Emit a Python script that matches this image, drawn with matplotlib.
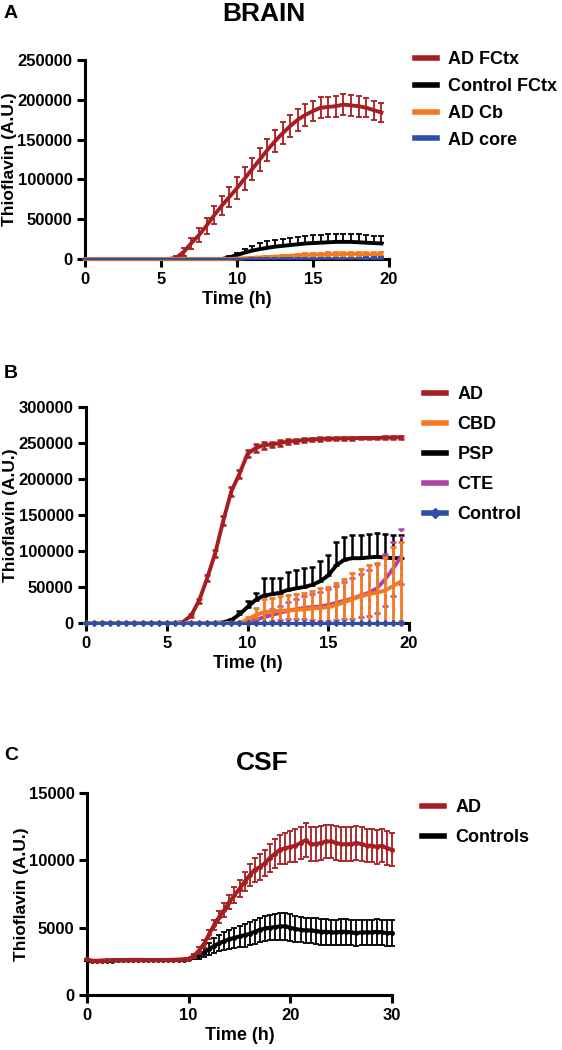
import numpy as np
import matplotlib.pyplot as plt
from matplotlib.lines import Line2D

plt.rcParams['font.family'] = ['Liberation Sans', 'DejaVu Sans']
plt.rcParams['font.weight'] = 'bold'

RED = '#a61e22'
ORANGE = '#f47920'
BLUE = '#2f4ea5'
MAGENTA = '#b044a6'
BLACK = '#000000'

# ---------------- panel A: brain ----------------
time_a = np.arange(0, 20, 0.5)
ad_fctx = [0] * 12 + [1500, 9000, 20000, 30000, 42000, 55000, 67000, 78000, 89000, 101000,
                      113000, 125000, 137000, 148000, 158000, 167000, 175000, 181000, 186000,
                      190000, 191000, 192000, 194000, 193000, 192000, 190000, 187000, 184000]
ad_fctx_err = [0] * 12 + [2000, 5000, 7000, 9000, 10000, 11000, 12000, 13000, 14000, 14000,
                          14000, 14000, 14000, 14000, 14000, 14000, 14000, 14000, 13000, 13000,
                          13000, 13000, 13000, 13000, 13000, 12000, 12000, 12000]
ctrl_fctx = [0] * 19 + [2000, 5000, 8000, 10500, 12500, 14000, 15500, 16500, 17500, 18500,
                        19500, 20000, 20500, 21000, 21500, 21500, 21500, 21000, 20500, 20000, 19500]
ctrl_fctx_err = [0] * 19 + [1500, 3000, 5000, 6000, 7000, 8000, 8500, 9000, 9500, 9500, 10000,
                            10000, 10000, 10000, 10000, 10000, 10000, 10000, 9500, 9500, 9500]
ad_cb = [0] * 20 + [500, 1000, 1500, 2000, 2500, 3000, 3500, 4000, 4500, 5000, 5500, 5500,
                    6000, 6000, 6500, 6500, 6500, 6000, 6000, 6000]
ad_cb_err = [0] * 20 + [200, 400, 600, 800, 1000, 1200, 1400, 1600, 1800, 2000, 2200, 2200,
                        2400, 2400, 2500, 2500, 2500, 2400, 2400, 2400]
ad_core = [0] * 20 + [200, 200, 300, 300, 300, 400, 400, 400, 500, 500, 500, 600, 600, 600,
                      700, 700, 700, 800, 800, 800]
ad_core_err = [0] * 20 + [300, 300, 400, 400, 500, 500, 600, 600, 700, 700, 800, 800, 900,
                          900, 1000, 1000, 1000, 1100, 1100, 1100]

# ---------------- panel B: tauopathies ----------------
time_b = np.arange(0, 20, 0.5)
ad_b = [0] * 12 + [1500, 10000, 31000, 62000, 97000, 142000, 183000, 207000, 235000, 243000,
                   247000, 248000, 250000, 252000, 253000, 254000, 255000, 255500, 256000,
                   256000, 256500, 256500, 257000, 257000, 257000, 257500, 257500, 258000]
ad_b_err = [0] * 12 + [500, 2000, 3000, 4000, 5000, 6000, 6000, 5000, 5000, 5000, 5000, 4000,
                       4000, 3000, 3000, 3000, 2500, 2500, 2500, 2000, 2000, 2000, 2000, 2000,
                       2000, 2000, 2000, 2000]
cbd = [0] * 20 + [5000, 11000, 15000, 16000, 17000, 17500, 18000, 19000, 20000, 21000, 22000,
                  25000, 29000, 33000, 37000, 40000, 42000, 45000, 51000, 58000]
cbd_err = [0] * 20 + [4000, 10000, 18000, 19000, 20000, 21000, 22000, 23000, 25000, 27000,
                      28000, 30000, 32000, 36000, 38000, 40000, 42000, 46000, 55000, 55000]
psp = [0] * 17 + [1000, 4000, 12000, 22000, 32000, 38000, 40000, 42000, 46000, 48000, 50000,
                  53000, 58000, 66000, 80000, 88000, 90000, 90000, 91000, 92000, 91000, 90000, 90000]
psp_err = [0] * 17 + [500, 2000, 5000, 8000, 10000, 25000, 22000, 20000, 25000, 26000, 26000,
                      25000, 28000, 28000, 32000, 32000, 32000, 32000, 33000, 33000, 33000,
                      32000, 32000]
cte = [0] * 21 + [4000, 8000, 11000, 14000, 17000, 19000, 21000, 22000, 23000, 25000, 28000,
                  31000, 34000, 38000, 42000, 48000, 60000, 75000, 92000]
cte_err = [0] * 21 + [3000, 6000, 8000, 10000, 12000, 14000, 16000, 18000, 20000, 22000, 24000,
                      26000, 28000, 30000, 32000, 34000, 36000, 38000, 38000]
control_b = [0] * 40

# ---------------- panel C: CSF ----------------
time_c = np.arange(0, 30.5, 0.5)
ad_csf = [2650, 2550, 2550, 2560, 2570, 2580, 2590, 2600, 2610, 2610, 2610, 2610, 2600, 2600,
          2600, 2600, 2610, 2620, 2630, 2650, 2700,
          2900, 3300, 3800, 4500, 5200, 5800, 6300, 6900, 7400, 7900, 8400, 8900, 9300, 9500,
          9800, 10200, 10500, 10800, 10900, 11000,
          11100, 11300, 11500, 11200, 11200, 11300, 11400, 11400, 11300, 11200, 11200, 11200,
          11300, 11200, 11100, 11100, 11000, 11100, 10900, 10800]
ad_csf_err = [50] * 21 + [150, 250, 300, 350, 400, 450, 500, 550, 600, 650, 700, 800, 900, 950,
                          1000, 1050, 1100, 1100, 1150, 1150,
                          1200, 1200, 1250, 1250, 1250, 1250, 1250, 1250, 1250, 1250, 1250,
                          1250, 1250, 1250, 1250, 1250, 1250, 1250, 1250, 1250]
ctrl_csf = [2600, 2500, 2520, 2540, 2550, 2560, 2570, 2580, 2580, 2590, 2590, 2590, 2590, 2590,
            2590, 2590, 2600, 2600, 2610, 2620, 2650,
            2800, 2950, 3150, 3400, 3650, 3850, 4000, 4150, 4250, 4350, 4450, 4550, 4700, 4850,
            4950, 5000, 5050, 5100, 5100, 5000,
            4900, 4850, 4800, 4800, 4750, 4700, 4700, 4650, 4650, 4700, 4700, 4650, 4600, 4650,
            4650, 4650, 4700, 4650, 4600, 4600]
ctrl_csf_err = [50] * 21 + [150, 250, 350, 450, 550, 600, 650, 700, 750, 800, 850, 850, 900,
                            900, 950, 950, 1000, 1000, 1000, 1000,
                            1000, 950, 950, 950, 950, 950, 950, 950, 950, 950, 950, 950, 950,
                            950, 950, 950, 950, 950, 950, 950]

W, H = 562, 1050
fig = plt.figure(figsize=(W / 100, H / 100), dpi=100)


def make_ax(left, top, right, bottom):
    ax = fig.add_axes([left / W, 1 - bottom / H, (right - left) / W, (bottom - top) / H])
    for s in ['top', 'right']:
        ax.spines[s].set_visible(False)
    for s in ['left', 'bottom']:
        ax.spines[s].set_linewidth(2.2)
    ax.tick_params(width=2.2, length=6, labelsize=12, pad=3)
    return ax


def series(ax, x, y, err, color, upper_only=False, lw=2.8, marker=None, ms=0, z=2,
           dotted=False, elw=1.3):
    y = np.array(y, float)
    err = np.array(err, float)
    if upper_only:
        yerr = [np.zeros_like(err), err]
    else:
        yerr = [np.minimum(err, y), err]
    eb = ax.errorbar(x, y, yerr=yerr, fmt='-', color=color, lw=lw, elinewidth=elw,
                     capsize=2.5, capthick=elw, marker=marker, ms=ms, zorder=z, clip_on=False)
    if dotted:
        for c in eb[2]:
            c.set_linestyle((0, (1.5, 1.5)))
    for art in eb[1] + eb[2]:
        art.set_clip_on(False)
    return eb


def finish(ax, xmax, xticks, ymax, ystep, ylab_px):
    ax.set_xlim(0, xmax)
    ax.set_ylim(0, ymax)
    ax.set_xticks(xticks)
    ax.set_yticks(range(0, ymax + 1, ystep))
    ax.set_xlabel('Time (h)', fontsize=13, fontweight='bold', labelpad=3)
    ax.set_ylabel('Thioflavin (A.U.)', fontsize=12.5, fontweight='bold', va='center')
    # place the y label centre at a given figure x pixel
    bb = ax.get_position()
    ax.yaxis.set_label_coords((ylab_px / W - bb.x0) / bb.width, 0.5)


def legend(ax, entries, x_px, y_px, spacing):
    handles = [Line2D([0], [0], color=c, lw=4, marker=m, ms=5) for c, m in entries.values()]
    ax.legend(handles, list(entries.keys()), loc='upper left', frameon=False,
              bbox_to_anchor=(x_px / W, 1 - y_px / H), bbox_transform=fig.transFigure,
              borderpad=0, borderaxespad=0, handlelength=1.2, handletextpad=0.65,
              labelspacing=spacing, prop={'size': 13, 'weight': 'bold'})


# panel A
ax = make_ax(85, 60, 389, 259)
series(ax, time_a, ad_fctx, ad_fctx_err, RED, z=3)
series(ax, time_a, ctrl_fctx, ctrl_fctx_err, BLACK, upper_only=True, z=4)
series(ax, time_a, ad_cb, ad_cb_err, ORANGE, z=5)
series(ax, time_a, ad_core, ad_core_err, BLUE, lw=1.5, z=6)
finish(ax, 20, [0, 5, 10, 15, 20], 250000, 50000, 10)
legend(ax, {'AD FCtx': (RED, None), 'Control FCtx': (BLACK, None),
            'AD Cb': (ORANGE, None), 'AD core': (BLUE, None)}, 415, 51, 0.55)
fig.text(264 / W, 1 - 14 / H, 'BRAIN', ha='center', va='center', fontsize=19, fontweight='bold')
fig.text(4 / W, 1 - 14 / H, 'A', ha='left', va='center', fontsize=14, fontweight='bold')

# panel B
ax = make_ax(86, 407, 409, 623)
series(ax, time_b, ad_b, ad_b_err, RED, z=3, elw=1.8)
series(ax, time_b, psp, psp_err, BLACK, upper_only=True, z=4, elw=1.8)
series(ax, time_b, cte, cte_err, MAGENTA, z=5, dotted=True, elw=1.8)
series(ax, time_b, cbd, cbd_err, ORANGE, z=6, elw=2.0)
ax.plot(time_b, control_b, color=BLUE, lw=2, marker='D', ms=3, zorder=7, clip_on=False)
finish(ax, 20, [0, 5, 10, 15, 20], 300000, 50000, 11)
legend(ax, {'AD': (RED, None), 'CBD': (ORANGE, None), 'PSP': (BLACK, None),
            'CTE': (MAGENTA, None), 'Control': (BLUE, 'D')}, 424, 386, 0.72)
fig.text(4 / W, 1 - 374 / H, 'B', ha='left', va='center', fontsize=14, fontweight='bold')

# panel C
ax = make_ax(87, 793, 392, 995)
series(ax, time_c, ctrl_csf, ctrl_csf_err, BLACK, marker='o', ms=2.5, z=3)
series(ax, time_c, ad_csf, ad_csf_err, RED, marker='o', ms=2.5, z=4)
finish(ax, 30, [0, 10, 20, 30], 15000, 5000, 22)
legend(ax, {'AD': (RED, None), 'Controls': (BLACK, None)}, 422, 799, 0.72)
fig.text(262 / W, 1 - 763 / H, 'CSF', ha='center', va='center', fontsize=19, fontweight='bold')
fig.text(4 / W, 1 - 756 / H, 'C', ha='left', va='center', fontsize=14, fontweight='bold')

fig.savefig('out.png', dpi=100)
